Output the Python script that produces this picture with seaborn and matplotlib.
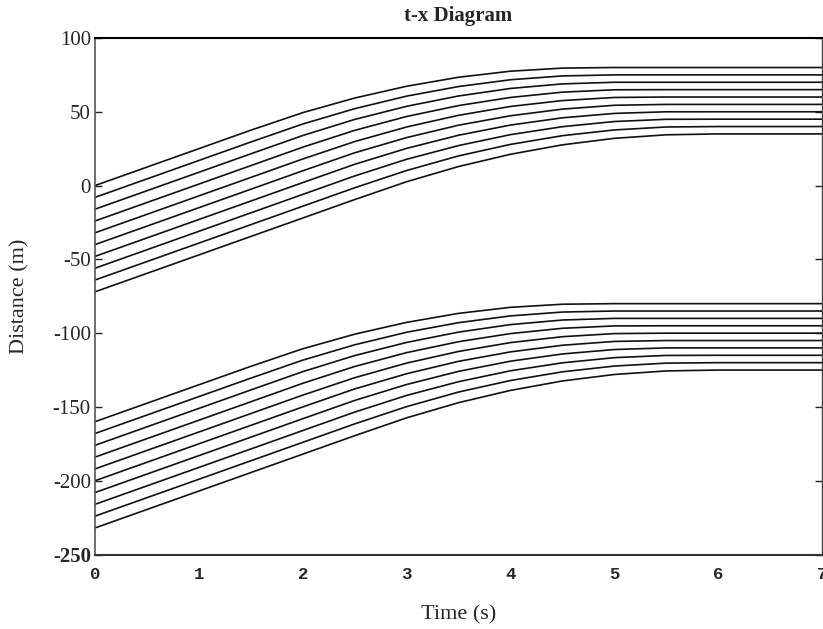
import pandas as pd
import matplotlib
matplotlib.use('Agg')
import matplotlib.pyplot as plt
import seaborn as sns

# time samples (s)
time_s = [0, 0.5, 1, 1.5, 2, 2.5, 3, 3.5, 4, 4.5, 5, 5.5, 6, 6.5, 7]

# upper platoon, distance (m) per vehicle
upper = [
    [0, 12.5, 25, 37.5, 49.4, 59.3, 67.3, 73.4, 77.5, 79.6, 80, 80, 80, 80, 80],
    [-8, 4.5, 17, 29.5, 41.7, 52.1, 60.6, 67.1, 71.7, 74.3, 75, 75, 75, 75, 75],
    [-16, -3.5, 9, 21.5, 33.9, 44.8, 53.7, 60.7, 65.8, 68.9, 70, 70, 70, 70, 70],
    [-24, -11.5, 1, 13.5, 26.0, 37.4, 46.8, 54.2, 59.7, 63.3, 64.9, 65, 65, 65, 65],
    [-32, -19.5, -7, 5.5, 18, 29.8, 39.7, 47.6, 53.6, 57.6, 59.7, 60, 60, 60, 60],
    [-40, -27.5, -15, -2.5, 10, 22.2, 32.5, 40.9, 47.3, 51.8, 54.4, 55, 55, 55, 55],
    [-48, -35.5, -23, -10.5, 2, 14.4, 25.2, 34.1, 41.0, 45.9, 48.9, 50, 50, 50, 50],
    [-56, -43.5, -31, -18.5, -6, 6.5, 17.8, 27.1, 34.5, 39.9, 43.4, 44.9, 45, 45, 45],
    [-64, -51.5, -39, -26.5, -14, -1.5, 10.2, 20.1, 27.9, 33.8, 37.7, 39.7, 40, 40, 40],
    [-72, -59.5, -47, -34.5, -22, -9.5, 2.6, 12.9, 21.2, 27.6, 32.0, 34.4, 35, 35, 35],
]

# lower platoon
lower = [
    [-160, -147.5, -135, -122.5, -110.6, -100.7, -92.7, -86.6, -82.5, -80.4, -80, -80, -80, -80, -80],
    [-168, -155.5, -143, -130.5, -118.3, -107.9, -99.4, -92.9, -88.3, -85.7, -85, -85, -85, -85, -85],
    [-176, -163.5, -151, -138.5, -126.1, -115.2, -106.3, -99.3, -94.2, -91.1, -90, -90, -90, -90, -90],
    [-184, -171.5, -159, -146.5, -134.0, -122.6, -113.2, -105.8, -100.3, -96.7, -95.1, -95, -95, -95, -95],
    [-192, -179.5, -167, -154.5, -142, -130.2, -120.3, -112.4, -106.4, -102.4, -100.3, -100, -100, -100, -100],
    [-200, -187.5, -175, -162.5, -150, -137.8, -127.5, -119.1, -112.7, -108.2, -105.6, -105, -105, -105, -105],
    [-208, -195.5, -183, -170.5, -158, -145.6, -134.8, -125.9, -119.0, -114.1, -111.1, -110, -110, -110, -110],
    [-216, -203.5, -191, -178.5, -166, -153.5, -142.2, -132.9, -125.5, -120.1, -116.6, -115.1, -115, -115, -115],
    [-224, -211.5, -199, -186.5, -174, -161.5, -149.8, -139.9, -132.1, -126.2, -122.3, -120.3, -120, -120, -120],
    [-232, -219.5, -207, -194.5, -182, -169.5, -157.4, -147.1, -138.8, -132.4, -128.0, -125.6, -125, -125, -125],
]

y_ticks = [100, 50, 0, -50, -100, -150, -200, -250]
x_ticks = [0, 1, 2, 3, 4, 5, 6, 7]

#build long-form table
rows = []
for grp, lines in [('upper', upper), ('lower', lower)]:
    for k, vals in enumerate(lines):
        for t, d in zip(time_s, vals):
            rows.append({'vehicle': f'{grp}{k}', 'Time': t, 'Distance': d})
df = pd.DataFrame(rows)

sns.set_style('white')
plt.rcParams['font.family'] = ['Liberation Serif', 'DejaVu Serif']
plt.rcParams['axes.unicode_minus'] = False

fig = plt.figure(figsize=(8.23, 6.29), dpi=100)
ax = fig.add_axes([0.1154, 0.1184, 0.8834, 0.8212])

sns.lineplot(data=df, x='Time', y='Distance', units='vehicle', estimator=None,
             color='#111111', linewidth=1.2, ax=ax, legend=False)

ax.set_xlim(0, 7)
ax.set_ylim(-250, 100)
ax.set_yticks(y_ticks)
ax.set_yticklabels([str(v) for v in y_ticks], fontsize=15)
ax.get_yticklabels()[-1].set_fontweight('bold')
ax.set_xticks(x_ticks)
ax.set_xticklabels([str(v) for v in x_ticks], family='Liberation Mono',
                   fontweight='bold', fontsize=12.5)

ax.tick_params(axis='y', direction='in', length=5, width=1, pad=3,
               left=True, right=True, color='#222222')
ax.tick_params(axis='x', length=0, pad=9)

ax.set_title('t-x Diagram', fontsize=15, fontweight='bold', pad=12)
ax.set_xlabel('Time (s)', fontsize=16)
ax.set_ylabel('Distance (m)', fontsize=16)
ax.xaxis.set_label_coords(0.5, -0.098)
ax.yaxis.set_label_coords(-0.0895, 0.5)

ax.spines['top'].set_color('black')
ax.spines['top'].set_linewidth(1.5)
ax.spines['bottom'].set_color('#333333')
ax.spines['bottom'].set_linewidth(1.5)
ax.spines['left'].set_color('#555555')
ax.spines['left'].set_linewidth(1.2)
ax.spines['right'].set_color('#444444')
ax.spines['right'].set_linewidth(1)
for s in ax.spines.values():
    s.set_visible(True)

fig.savefig('out.png', dpi=100, facecolor='white')
